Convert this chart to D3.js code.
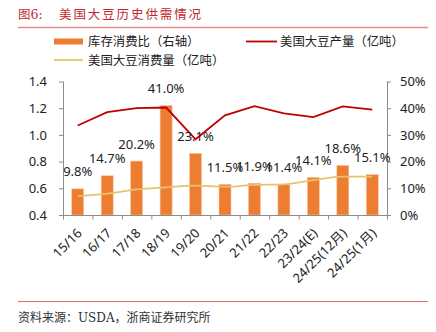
<!DOCTYPE html>
<html>
<head>
<meta charset="utf-8">
<script src="https://cdn.jsdelivr.net/npm/d3@7"></script>
<style>
  body { margin: 0; background: #fff; }
  svg { display: block; font-family: "Noto Sans", "Noto Sans CJK SC", sans-serif; }
</style>
</head>
<body>
<div id="chart"></div>
<script>
// seasons, stock-to-use ratio (%), production and consumption (亿吨)
var seasons = ["15/16", "16/17", "17/18", "18/19", "19/20", "20/21", "21/22", "22/23", "23/24(E)", "24/25(12月)", "24/25(1月)"];
var stockRatio = [9.8, 14.7, 20.2, 41.0, 23.1, 11.5, 11.9, 11.4, 14.1, 18.6, 15.1];
var production = [1.07, 1.17, 1.20, 1.205, 0.967, 1.147, 1.215, 1.162, 1.133, 1.214, 1.19];
var consumption = [0.542, 0.56, 0.592, 0.607, 0.62, 0.612, 0.625, 0.63, 0.662, 0.687, 0.687];
var leftTicks = [0.4, 0.6, 0.8, 1.0, 1.2, 1.4];
var rightTicks = [0, 10, 20, 30, 40, 50];

var W = 436, H = 332;
var plot = {left: 63, right: 387, top: 81.5, bottom: 215};

var svg = d3.select("#chart").append("svg")
  .attr("width", W)
  .attr("height", H);

// header
svg.append("text")
  .attr("x", 18).attr("y", 18.5)
  .attr("fill", "#c0282e")
  .style("font-family", "'DejaVu Serif', 'Noto Sans CJK SC', serif")
  .style("font-size", "12.5px")
  .text("图6:");
svg.append("text")
  .attr("x", 59).attr("y", 18.5)
  .attr("fill", "#c0282e")
  .style("font-family", "'Noto Sans CJK SC', serif")
  .style("font-size", "12.5px")
  .style("letter-spacing", "1.9px")
  .text("美国大豆历史供需情况");
svg.append("line")
  .attr("x1", 18).attr("x2", 428)
  .attr("y1", 27.5).attr("y2", 27.5)
  .attr("stroke", "#e48a8a")
  .attr("stroke-width", 1.5);

var x = d3.scaleBand()
  .domain(seasons)
  .range([plot.left, plot.right]);

var yL = d3.scaleLinear()
  .domain([0.4, 1.4])
  .range([plot.bottom, plot.top]);

var yR = d3.scaleLinear()
  .domain([0, 50])
  .range([plot.bottom, plot.top]);

var axisColor = "#8c8c8c";

// left axis
var gl = svg.append("g")
  .attr("transform", "translate(" + plot.left + ",0)")
  .call(d3.axisLeft(yL).tickValues(leftTicks).tickFormat(d3.format(".1f")).tickSize(4).tickPadding(12));

// right axis
var gr = svg.append("g")
  .attr("transform", "translate(" + plot.right + ",0)")
  .call(d3.axisRight(yR).tickValues(rightTicks).tickFormat(function(d) { return d + "%"; }).tickSize(4).tickPadding(9));

[gl, gr].forEach(function(g) {
  g.select(".domain").attr("stroke", axisColor)
    .attr("d", "M0.5," + plot.top + "V" + plot.bottom);
  g.selectAll(".tick line").attr("stroke", axisColor);
  g.selectAll(".tick text").attr("fill", "#222").style("font-size", "13px")
    .style("font-family", "'Noto Sans', sans-serif");
});

// bars
svg.append("g")
  .selectAll("rect")
  .data(stockRatio)
  .enter()
  .append("rect")
  .attr("x", function(d, i) { return x(seasons[i]) + x.bandwidth() / 2 - 6; })
  .attr("y", function(d) { return yR(d); })
  .attr("width", 12)
  .attr("height", function(d) { return plot.bottom - yR(d); })
  .attr("fill", "#ed7d31")
  .attr("stroke", "#f6c7a6")
  .attr("stroke-width", 0.6);

// bottom axis with ticks between categories
var gb = svg.append("g")
  .attr("transform", "translate(0," + plot.bottom + ")");
gb.append("line")
  .attr("x1", plot.left).attr("x2", plot.right)
  .attr("y1", 0.5).attr("y2", 0.5)
  .attr("stroke", axisColor);
gb.selectAll(".sep")
  .data(seasons.concat(["end"]))
  .enter()
  .append("line")
  .attr("x1", function(d, i) { return plot.left + i * x.step() + 0.5; })
  .attr("x2", function(d, i) { return plot.left + i * x.step() + 0.5; })
  .attr("y1", 0).attr("y2", 4.5)
  .attr("stroke", axisColor);
gb.selectAll(".lbl")
  .data(seasons)
  .enter()
  .append("text")
  .attr("transform", function(d) {
    return "translate(" + (x(d) + x.bandwidth() / 2 + 5) + ",19) rotate(-45)";
  })
  .attr("text-anchor", "end")
  .attr("fill", "#222")
  .style("font-size", "13px")
  .text(function(d) { return d; });

// lines
var lineProd = d3.line()
  .x(function(d, i) { return x(seasons[i]) + x.bandwidth() / 2; })
  .y(function(d) { return yL(d); });

var lineCons = d3.line()
  .x(function(d, i) { return x(seasons[i]) + x.bandwidth() / 2; })
  .y(function(d) { return yL(d); })
  .curve(d3.curveMonotoneX);

svg.append("path")
  .datum(consumption)
  .attr("d", lineCons)
  .attr("fill", "none")
  .attr("stroke", "#e6c36e")
  .attr("stroke-width", 1.8);

svg.append("path")
  .datum(production)
  .attr("d", lineProd)
  .attr("fill", "none")
  .attr("stroke", "#c00000")
  .attr("stroke-width", 1.8);

// value labels
svg.append("g")
  .selectAll("text")
  .data(stockRatio)
  .enter()
  .append("text")
  .attr("x", function(d, i) { return x(seasons[i]) + x.bandwidth() / 2; })
  .attr("y", function(d) { return yR(d) - 12.5; })
  .attr("text-anchor", "middle")
  .attr("fill", "#222")
  .style("font-size", "13px")
  .text(function(d) { return d.toFixed(1) + "%"; });

// legend
var lg = svg.append("g").style("font-size", "12.4px").attr("fill", "#222");
lg.append("rect").attr("x", 54).attr("y", 38.5).attr("width", 29).attr("height", 6).attr("fill", "#ed7d31");
lg.append("text").attr("x", 88).attr("y", 46).text("库存消费比（右轴）");
lg.append("line").attr("x1", 246).attr("x2", 277).attr("y1", 41.5).attr("y2", 41.5)
  .attr("stroke", "#c00000").attr("stroke-width", 1.8);
lg.append("text").attr("x", 280).attr("y", 46).text("美国大豆产量（亿吨）");
lg.append("line").attr("x1", 54).attr("x2", 83).attr("y1", 60).attr("y2", 60)
  .attr("stroke", "#e6c36e").attr("stroke-width", 1.8);
lg.append("text").attr("x", 88).attr("y", 64.5).text("美国大豆消费量（亿吨）");

// footer
svg.append("line")
  .attr("x1", 18).attr("x2", 428)
  .attr("y1", 301.5).attr("y2", 301.5)
  .attr("stroke", "#e46a6a")
  .attr("stroke-width", 1.2);
svg.append("text")
  .attr("x", 18).attr("y", 321.5)
  .attr("fill", "#333")
  .style("font-family", "'DejaVu Serif', 'Noto Sans CJK SC', serif")
  .style("font-size", "12px")
  .text("资料来源：USDA，浙商证券研究所");
</script>
</body>
</html>
